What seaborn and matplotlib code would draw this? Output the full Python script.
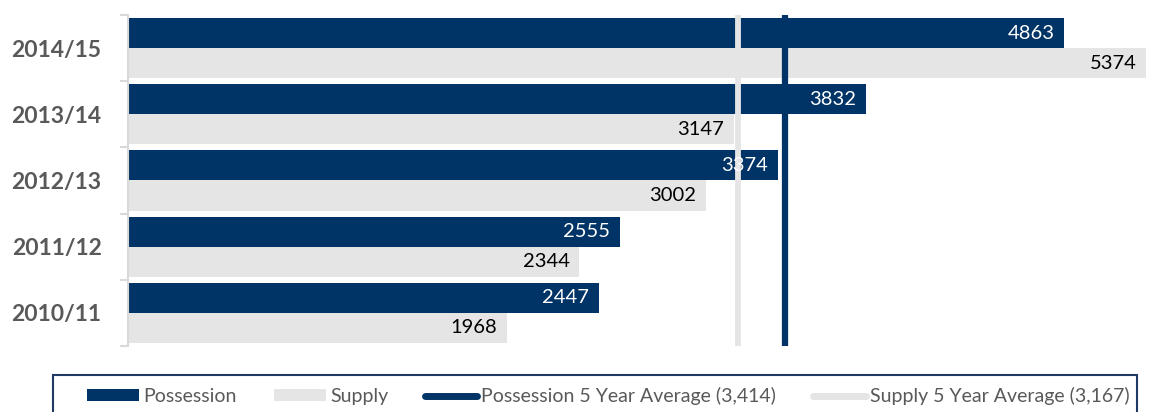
import matplotlib
matplotlib.use('Agg')
import matplotlib.pyplot as plt
import seaborn as sns
import pandas as pd
from matplotlib.patches import Patch, Rectangle
from matplotlib.lines import Line2D

years = ['2014/15', '2013/14', '2012/13', '2011/12', '2010/11']
possession = [4863, 3832, 3374, 2555, 2447]
supply = [5374, 3147, 3002, 2344, 1968]
series = ['Possession', 'Supply']
avg_possession = 3414
avg_supply = 3167
legend_labels = ['Possession', 'Supply',
                 'Possession 5 Year Average (3,414)',
                 'Supply 5 Year Average (3,167)']

NAVY = '#003366'
GRAY = '#E5E5E5'
TEXT = '#595959'
AXIS = '#D9D9D9'

sns.set_theme(style='white')
plt.rcParams['font.family'] = ['Lato', 'DejaVu Sans']

df = pd.DataFrame({
    'Year': years * 2,
    'Series': [series[0]] * len(years) + [series[1]] * len(years),
    'Value': possession + supply,
})

W, H = 1151, 412
fig = plt.figure(figsize=(W / 100, H / 100), dpi=100)
ax = fig.add_axes([128 / W, 1 - 346 / H, (1146 - 128) / W, 331 / H])

sns.barplot(data=df, y='Year', x='Value', hue='Series', order=years,
            hue_order=series, palette=[NAVY, GRAY], width=0.91,
            orient='h', ax=ax, legend=False, saturation=1, linewidth=0,
            errorbar=None)

xmax = 5288
ax.set_xlim(0, xmax)
ax.set_ylim(len(years) - 0.5, -0.5)

# average lines
ax.axvline(avg_supply, color=GRAY, lw=4.2, zorder=3, solid_capstyle='butt')
ax.axvline(avg_possession, color=NAVY, lw=4.5, zorder=3, solid_capstyle='butt')

# value labels
for cont, col in zip(ax.containers, ['white', 'black']):
    for bar in cont:
        w = bar.get_width()
        yc = bar.get_y() + bar.get_height() / 2
        ax.annotate(f'{int(round(w))}', xy=(min(w, xmax), yc),
                    xytext=(-7, 0), textcoords='offset points',
                    ha='right', va='center', color=col, fontsize=14.5,
                    zorder=5, annotation_clip=False)

# axes styling
for s in ['top', 'right', 'bottom']:
    ax.spines[s].set_visible(False)
ax.spines['left'].set_color(AXIS)
ax.spines['left'].set_linewidth(1.5)
ax.set_xticks([])
ax.set_xlabel('')
ax.set_ylabel('')
ax.tick_params(axis='y', which='major', length=0, pad=19,
               labelsize=16.5, labelcolor=TEXT)
for lbl in ax.get_yticklabels():
    lbl.set_fontweight('bold')
ax.set_yticks([i - 0.5 for i in range(len(years) + 1)], minor=True)
ax.tick_params(axis='y', which='minor', length=6, width=1.5, color=AXIS, left=True)

# legend
handles = [Patch(facecolor=NAVY, edgecolor='none'),
           Patch(facecolor=GRAY, edgecolor='none'),
           Line2D([], [], color=NAVY, lw=5, solid_capstyle='round'),
           Line2D([], [], color=GRAY, lw=5, solid_capstyle='round')]
fig.legend(handles, legend_labels, loc='center',
           bbox_to_anchor=(608 / W, 1 - 396 / H), ncol=4, frameon=False,
           fontsize=14, labelcolor=TEXT, handlelength=2.7,
           handleheight=0.6, handletextpad=0.2, columnspacing=1.9)
fig.add_artist(Rectangle((53 / W, -0.05), (1137 - 53) / W, 0.05 + 1 - 375 / H,
                         transform=fig.transFigure, facecolor='none',
                         edgecolor='#1F3864', lw=1.5))

fig.savefig('out.png', dpi=100)
